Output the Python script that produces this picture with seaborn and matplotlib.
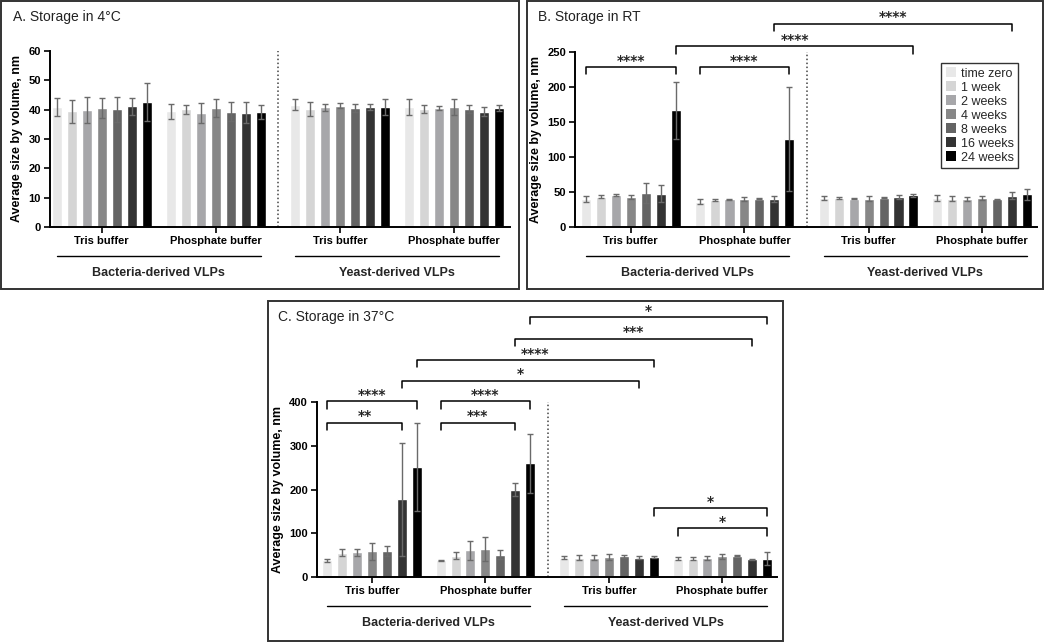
import numpy as np
import pandas as pd
import matplotlib
matplotlib.use("Agg")
import matplotlib.pyplot as plt
import seaborn as sns
from matplotlib.patches import Rectangle

# ---------------- data ----------------
times = ["time zero", "1 week", "2 weeks", "4 weeks", "8 weeks", "16 weeks", "24 weeks"]
buffers = ["Tris buffer", "Phosphate buffer", "Tris buffer", "Phosphate buffer"]
sources = ["Bacteria-derived VLPs", "Yeast-derived VLPs"]
palette = ["#e8e8e8", "#d5d5d5", "#a7a7aa", "#878787", "#646464", "#333333", "#000000"]

# order of 28 bars: bacteria Tris, bacteria Phosphate, yeast Tris, yeast Phosphate (7 time points each)
a_mean = [40.9, 39.4, 39.8, 40.6, 40.1, 41.1, 42.6,
          39.4, 40.1, 39.0, 40.6, 39.3, 38.9, 39.2,
          41.7, 40.2, 40.9, 41.4, 40.6, 40.8, 40.9,
          40.9, 40.3, 40.5, 40.9, 40.1, 39.3, 40.6]
a_sd = [3.2, 3.9, 4.4, 3.3, 4.2, 3.0, 6.5,
        2.5, 1.5, 3.4, 3.2, 3.3, 3.6, 2.5,
        1.9, 2.4, 1.2, 0.9, 1.5, 1.0, 2.7,
        2.8, 1.4, 0.6, 2.7, 1.4, 1.6, 1.1]
b_mean = [40.0, 43.5, 45.4, 43.0, 49.0, 47.8, 167.0,
          36.3, 38.7, 39.7, 40.2, 40.6, 40.2, 125.7,
          41.6, 41.6, 40.6, 40.6, 42.0, 43.0, 45.4,
          41.6, 40.6, 39.7, 41.0, 39.7, 44.5, 46.8]
b_sd = [4.8, 2.0, 1.2, 2.6, 14.0, 12.7, 40.6,
        3.0, 2.0, 1.0, 2.4, 0.5, 3.8, 74.0,
        2.4, 1.0, 1.0, 3.0, 1.0, 3.0, 2.4,
        4.3, 4.0, 3.0, 3.0, 1.0, 4.8, 8.0]
c_mean = [38, 56, 57, 59, 59, 178, 252,
          38, 49, 61, 63.5, 51, 200, 260,
          44, 44, 44, 46, 47, 44, 45,
          42, 42, 43, 47, 49, 41, 42]
c_sd = [3, 8, 8, 19, 12, 129, 101,
        2, 8, 21, 27.5, 10, 14, 67,
        3, 6, 6, 6, 3, 3, 2,
        3, 4, 5, 6, 2, 1, 15]

# significance brackets: (from bar, to bar, height, label)
b_brackets = [(0, 6, 229, "****"), (7, 13, 229, "****"),
              (6, 20, 258, "****"), (12, 26, 290.6, "****")]
c_brackets = [(0, 5, 353, "**"), (0, 6, 401.5, "****"),
              (7, 12, 353, "***"), (7, 13, 401.5, "****"),
              (5, 19, 449, "*"), (6, 20, 496, "****"),
              (12, 26, 545, "***"), (13, 27, 594, "*"),
              (20, 27, 157, "*"), (21, 27, 111, "*")]

titles = ["A. Storage in 4°C", "B. Storage in RT", "C. Storage in 37°C"]

# ---------------- layout ----------------
W, H = 1045, 644
group_start = [0.0, 7.6, 15.9, 23.5]
pos = [g + k for g in group_start for k in range(7)]
centers = [g + 3 for g in group_start]
divider = 14.78

sns.set_theme(style="white")
plt.rcParams["font.family"] = ["Liberation Sans", "DejaVu Sans"]

fig = plt.figure(figsize=(W / 100, H / 100), dpi=100)


def px_axes(l, r, t, b):
    return fig.add_axes([l / W, 1 - b / H, (r - l) / W, (b - t) / H])


def draw(ax, mean, sd, ylim, yticks, xlim, brackets, tick_h, legend=False):
    df = pd.DataFrame({"pos": pos, "size": mean, "sd": sd, "time": times * 4})
    sns.barplot(data=df, x="pos", y="size", hue="time", hue_order=times,
                palette=palette, native_scale=True, dodge=False, width=0.67,
                saturation=1, errorbar=None, legend=legend, ax=ax, zorder=2)
    ax.errorbar(df["pos"], df["size"], yerr=df["sd"], fmt="none",
                ecolor="#6a6a6a", elinewidth=1.0, capsize=2.2, capthick=1.0, zorder=3)
    ax.set_xlim(*xlim)
    ax.set_ylim(*ylim)
    sns.despine(ax=ax)
    for s in ("left", "bottom"):
        ax.spines[s].set_linewidth(1.4)
        ax.spines[s].set_color("black")
    ax.set_yticks(yticks, [str(t) for t in yticks], fontweight="bold", fontsize=8)
    ax.set_xticks(centers, buffers, fontweight="bold", fontsize=8)
    ax.tick_params(axis="both", length=4, width=1.2, color="black",
                   bottom=True, left=True, pad=2.5, labelcolor="black")
    ax.set_xlabel("")
    ax.set_ylabel("Average size by volume, nm", fontsize=9, fontweight="bold",
                  labelpad=4, color="black")
    ax.grid(False)
    ax.vlines(divider, ylim[0], ylim[1], colors="#444444", linestyles=(0, (1, 1.6)),
              linewidth=1.1, zorder=1)
    tr = ax.get_xaxis_transform()
    for i, (a, b) in enumerate([(0, 13), (14, 27)]):
        ax.plot([pos[a], pos[b]], [-29 / 175, -29 / 175], transform=tr,
                color="black", lw=1.0, clip_on=False)
        ax.text((pos[a] + pos[b]) / 2, -46 / 175, sources[i], transform=tr,
                ha="center", va="center", fontsize=9, fontweight="bold")
    for i, j, y, lab in brackets:
        x1, x2 = pos[i], pos[j]
        ax.plot([x1, x1, x2, x2], [y - tick_h, y, y, y - tick_h], color="black",
                lw=1.1, clip_on=False, zorder=4)
        ax.annotate(lab, xy=((x1 + x2) / 2, y), xytext=(0, 1.5),
                    textcoords="offset points", ha="center", va="baseline",
                    fontsize=10, fontweight="bold", family="DejaVu Sans",
                    annotation_clip=False)


axA = px_axes(50, 510, 51, 227)
draw(axA, a_mean, a_sd, (0, 60), list(range(0, 61, 10)), (-0.45, 30.24), [], 0)

axB = px_axes(575, 1037, 52, 227)
draw(axB, b_mean, b_sd, (0, 250), list(range(0, 251, 50)), (-0.73, 30.16),
     b_brackets, 10.5, legend=True)
handles, labels = axB.get_legend_handles_labels()
if axB.get_legend() is not None:
    axB.get_legend().remove()
leg = axB.legend(handles, labels, loc="upper right", bbox_to_anchor=(0.959, 0.937),
                 borderaxespad=0, frameon=True, fancybox=False, fontsize=9,
                 handlelength=0.8, handleheight=0.8, handletextpad=0.4,
                 labelspacing=0.15, borderpad=0.35)
leg.get_frame().set_edgecolor("black")
leg.get_frame().set_linewidth(1.0)
for h in leg.legend_handles:
    h.set_edgecolor("none")

axC = px_axes(317, 777, 402, 577)
draw(axC, c_mean, c_sd, (0, 400), list(range(0, 401, 100)), (-0.7, 30.17),
     c_brackets, 16.8)

# panel frames and titles
for (x0, y0, x1, y1) in [(1, 1, 519, 289), (527, 1, 1043, 289), (268, 301, 783, 641)]:
    fig.add_artist(Rectangle((x0 / W, 1 - y1 / H), (x1 - x0) / W, (y1 - y0) / H,
                             transform=fig.transFigure, fill=False,
                             edgecolor="#333333", linewidth=1.4))
for (x, y), t in zip([(13, 17), (538, 17), (278, 317)], titles):
    fig.text(x / W, 1 - y / H, t, ha="left", va="center", fontsize=10, color="#222222")

fig.savefig("out.png", dpi=100)
